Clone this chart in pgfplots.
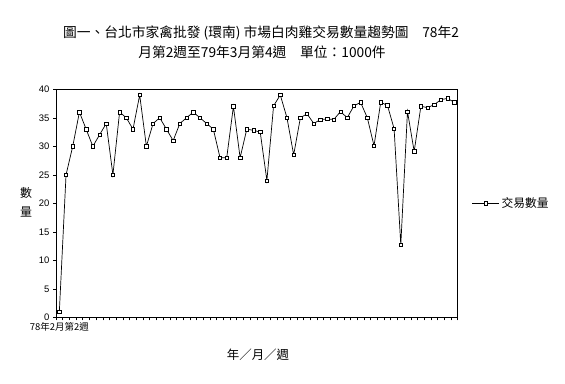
\documentclass[border=0pt]{standalone}
\usepackage{pgfplots}
\pgfplotsset{compat=1.18}
\usepackage{fontspec}
\setmainfont{Liberation Sans}
\newfontfamily\cjk{Noto Sans CJK TC}
\begin{document}
\begin{tikzpicture}
\path[use as bounding box] (0,0) rectangle (565bp,384bp);
\begin{axis}[
  at={(56bp,66.7bp)}, anchor=south west,
  scale only axis, width=401.7bp, height=228bp,
  xmin=0.5, xmax=60.5, ymin=0, ymax=40,
  ytick={0,5,...,40},
  xtick={0.5,1.5,...,60.5}, xticklabels={},
  extra x ticks={1}, extra x tick labels={78年2月第2週},
  extra x tick style={major tick length=0pt, xticklabel style={font=\cjk\fontsize{9.5}{10}\selectfont, yshift=-2bp}},
  tick align=outside, major tick length=3bp,
  tick style={black, line width=0.6bp},
  axis line style={line width=0.8bp},
  tick pos=left,
  /pgf/number format/assume math mode=true,
  tick label style={font=\fontsize{9.5}{10}\selectfont},
  legend style={at={(1.035,0.5)}, anchor=west, draw=none, fill=none, font=\cjk\fontsize{11.8}{12}\selectfont, inner sep=0pt, legend cell align=left},
  legend image code/.code={\draw[mark repeat=2,mark phase=2] plot coordinates {(0bp,0bp) (13.5bp,0bp) (27bp,0bp)};},
]
\addplot[black, line width=0.7bp, mark=square*, mark size=1.7bp, mark options={fill=white, line width=0.6bp}] coordinates {
(1,1) (2,25) (3,30) (4,36) (5,33) (6,30) (7,32) (8,34) (9,25) (10,36)
(11,35) (12,33) (13,39) (14,30) (15,34) (16,35) (17,33) (18,31) (19,34) (20,35)
(21,36) (22,35) (23,34) (24,33) (25,28) (26,28) (27,37) (28,28) (29,33) (30,32.8)
(31,32.5) (32,24) (33,37.1) (34,39) (35,35) (36,28.5) (37,35) (38,35.7) (39,34) (40,34.7)
(41,34.8) (42,34.7) (43,36.1) (44,35) (45,37.1) (46,37.7) (47,35) (48,30.1) (49,37.7) (50,37.2)
(51,33.1) (52,12.7) (53,36.1) (54,29.1) (55,37) (56,36.8) (57,37.3) (58,38.2) (59,38.4) (60,37.7)
};
\addlegendentry{交易數量}
\end{axis}
\node[font=\cjk\fontsize{13.8}{16}\selectfont] at (261bp,351bp) {圖一、台北市家禽批發 (環南) 市場白肉雞交易數量趨勢圖\quad 78年2};
\node[font=\cjk\fontsize{13.8}{16}\selectfont] at (262bp,332bp) {月第2週至79年3月第4週\quad 單位：1000件};
\node[font=\cjk\fontsize{12.5}{14}\selectfont] at (258bp,29bp) {年／月／週};
\node[font=\cjk\fontsize{12}{19}\selectfont, align=center] at (26bp,182bp) {數\\量};
\end{tikzpicture}
\end{document}
